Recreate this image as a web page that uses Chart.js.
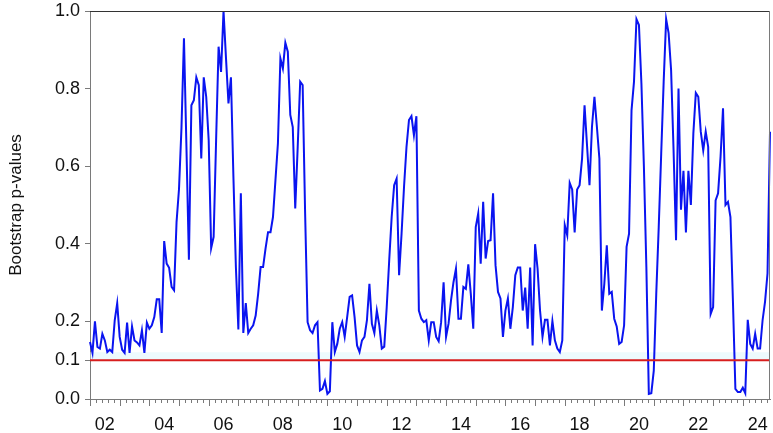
<!DOCTYPE html>
<html>
<head>
<meta charset="utf-8">
<script src="https://cdn.jsdelivr.net/npm/chart.js@4.4.1/dist/chart.umd.min.js"></script>
<style>
html,body{margin:0;padding:0;background:#fff;}
#wrap{width:773px;height:433px;}
</style>
</head>
<body>
<div id="wrap"><canvas id="c" width="773" height="433"></canvas></div>
<script>
// ---- data (monthly, Jan 2002 .. Dec 2024) ----
const startYear = 2002;
const endYear = 2024;
const xTickLabels = ['02','04','06','08','10','12','14','16','18','20','22','24'];
const yTickValues = [0.0, 0.1, 0.2, 0.4, 0.6, 0.8, 1.0];
const threshold = 0.1;
const yTitle = 'Bootstrap p-values';

const pValuesPart1 = [0.147,0.119,0.20,0.134,0.13,0.168,0.151,0.121,0.127,0.121,0.203,0.247,0.16,0.127,0.119,0.197,0.119,0.187,0.151,0.146,0.138,0.177,0.119,0.197,0.181,0.19,0.211,0.257,0.257,0.17,0.407,0.349,0.338,0.289,0.28,0.456,0.542,0.70,0.93,0.65,0.359,0.757,0.77,0.829,0.809,0.62,0.829];
const pValuesPart2 = [0.779,0.667,0.389,0.418,0.667,0.908,0.843,1.0,0.878,0.762,0.829,0.572,0.34,0.179,0.53,0.17,0.247,0.17,0.181,0.19,0.215,0.271,0.34,0.34,0.388,0.43,0.43,0.469,0.564,0.659,0.878,0.852,0.918,0.895,0.732,0.701,0.491,0.65,0.818,0.809,0.478,0.198,0.177,0.17,0.19,0.198,0.022];
const pValuesPart3 = [0.026,0.046,0.013,0.02,0.198,0.121,0.142,0.181,0.198,0.16,0.211,0.263,0.267,0.211,0.138,0.121,0.151,0.16,0.203,0.297,0.194,0.17,0.228,0.19,0.13,0.135,0.237,0.357,0.469,0.551,0.568,0.319,0.426,0.547,0.65,0.719,0.729,0.68,0.729,0.228,0.207,0.198,0.203,0.151];
const pValuesPart4 = [0.198,0.198,0.16,0.149,0.198,0.301,0.16,0.194,0.254,0.301,0.336,0.207,0.207,0.289,0.284,0.347,0.271,0.181,0.443,0.478,0.349,0.508,0.362,0.407,0.409,0.53,0.345,0.276,0.259,0.16,0.228,0.259,0.181,0.237,0.319,0.339,0.339,0.228,0.287,0.181,0.339,0.138,0.399,0.336,0.228,0.16];
const pValuesPart5 = [0.204,0.204,0.138,0.201,0.151,0.13,0.121,0.151,0.448,0.422,0.557,0.54,0.429,0.54,0.551,0.62,0.757,0.654,0.551,0.701,0.779,0.701,0.62,0.228,0.297,0.396,0.271,0.276,0.207,0.187,0.142,0.147,0.19,0.392,0.426,0.744,0.818,0.979,0.964,0.813,0.6,0.34,0.013,0.015,0.073];
const pValuesPart6 = [0.271,0.443,0.632,0.818,0.979,0.943,0.848,0.641,0.409,0.8,0.488,0.588,0.429,0.588,0.5,0.684,0.789,0.779,0.689,0.641,0.689,0.65,0.219,0.237,0.512,0.53,0.624,0.749,0.5,0.508,0.469,0.254,0.026,0.018,0.018,0.029,0.015,0.204,0.142,0.13,0.168,0.13,0.13,0.203,0.251,0.324,0.689];

const pValues = [].concat(pValuesPart1, pValuesPart2, pValuesPart3, pValuesPart4, pValuesPart5, pValuesPart6);

const categories = [];
for (let y = startYear; y <= endYear; y++) {
  for (let m = 1; m <= 12; m++) categories.push(y + '-' + String(m).padStart(2, '0'));
}

const FONT = "'Liberation Sans', Arial, sans-serif";
const AXIS_COLOR = '#7a7a7a';

// label sits mid-year (July) of even years, as in the original
function labelFor(idx) {
  const c = categories[idx];
  if (!c) return null;
  const yy = c.slice(2, 4), mm = c.slice(5, 7);
  if (mm === '07' && xTickLabels.includes(yy)) return yy;
  return null;
}

const framePlugin = {
  id: 'frame',
  beforeDatasetsDraw(chart) {
    const {ctx, chartArea: a, scales: {y}} = chart;
    ctx.save();
    ctx.fillStyle = 'rgba(214,244,250,0.45)';
    const y1 = y.getPixelForValue(threshold);
    ctx.fillRect(a.left, y1 - 8, a.right - a.left, 8);
    ctx.restore();
  },
  afterDraw(chart) {
    const {ctx, chartArea: a, scales: {x, y}} = chart;
    ctx.save();
    const ty = y.getPixelForValue(threshold);
    ctx.strokeStyle = '#d81e1e';
    ctx.lineWidth = 2;
    ctx.beginPath(); ctx.moveTo(a.left, ty); ctx.lineTo(a.right, ty); ctx.stroke();
    ctx.lineWidth = 1;
    ctx.strokeStyle = '#333';
    ctx.beginPath(); ctx.moveTo(a.left, a.top + 0.5); ctx.lineTo(a.right, a.top + 0.5); ctx.stroke();
    ctx.strokeStyle = AXIS_COLOR;
    ctx.beginPath(); ctx.moveTo(a.right - 0.5, a.top); ctx.lineTo(a.right - 0.5, a.bottom); ctx.stroke();
    const maxIdx = categories.length - 1;
    for (let yr = 0; yr <= endYear - startYear; yr++) {
      for (let k = 0; k < 5; k++) {
        const v = yr * 12 + k * 12 / 5;
        if (v > maxIdx + 0.01) continue;
        const px = Math.round(x.getPixelForValue(v)) + 0.5;
        const len = k === 0 ? 7 : 4;
        ctx.beginPath(); ctx.moveTo(px, a.bottom); ctx.lineTo(px, a.bottom + len); ctx.stroke();
      }
    }
    ctx.restore();
  }
};

new Chart(document.getElementById('c'), {
  type: 'line',
  data: {
    labels: categories,
    datasets: [{
      data: pValues,
      borderColor: '#0a14f0',
      borderWidth: 2,
      pointRadius: 0,
      tension: 0,
      fill: false
    }]
  },
  options: {
    responsive: false,
    animation: false,
    devicePixelRatio: 1,
    layout: { padding: { top: 11, right: 3, left: 0, bottom: 0 } },
    plugins: { legend: { display: false }, tooltip: { enabled: false } },
    scales: {
      x: {
        type: 'category',
        offset: false,
        grid: { display: true, drawOnChartArea: false, drawTicks: true, tickLength: 9, color: 'rgba(0,0,0,0)', tickColor: 'rgba(0,0,0,0)' },
        border: { display: true, color: AXIS_COLOR, width: 1 },
        afterBuildTicks(s) { s.ticks = s.ticks.filter(t => labelFor(t.value) !== null); },
        ticks: {
          autoSkip: false, maxRotation: 0, minRotation: 0, padding: 6,
          color: '#111', font: { family: FONT, size: 18 },
          callback(v) { return labelFor(v); }
        },
        afterFit(s) { s.height = 34; s.paddingLeft = 0; s.paddingRight = 0; }
      },
      y: {
        min: 0, max: 1,
        afterBuildTicks(s) { s.ticks = yTickValues.map(v => ({ value: v })); },
        grid: { display: true, drawOnChartArea: false, drawTicks: true, tickLength: 5, color: AXIS_COLOR, tickColor: AXIS_COLOR },
        border: { display: true, color: AXIS_COLOR, width: 1 },
        ticks: {
          padding: 5, color: '#111', font: { family: FONT, size: 18 },
          callback(v) { return Number(v).toFixed(1); }
        },
        title: { display: true, text: yTitle, color: '#111', font: { family: FONT, size: 17 }, padding: { top: 6, bottom: 0 } },
        afterFit(s) { s.width = 90; s.paddingTop = 0; s.paddingBottom = 0; }
      }
    }
  },
  plugins: [framePlugin]
});
</script>
</body>
</html>
